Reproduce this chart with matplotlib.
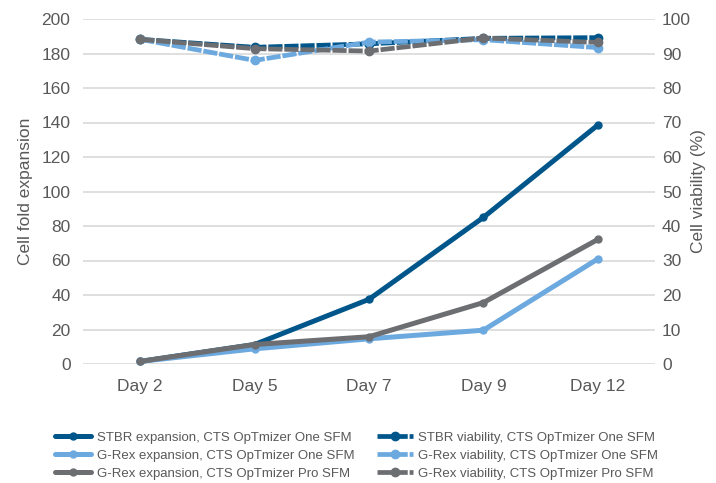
import matplotlib
matplotlib.use("Agg")
import matplotlib.pyplot as plt

days = ["Day 2", "Day 5", "Day 7", "Day 9", "Day 12"]
stbr_exp = [1.5, 11.3, 37.5, 85, 138.5]
grex_one_exp = [1.5, 8.8, 14.6, 19.6, 60.9]
grex_pro_exp = [1.5, 11.3, 15.8, 35.6, 72.2]
stbr_via = [94.1, 91.8, 92.8, 94.4, 94.6]
grex_one_via = [94.1, 88.0, 93.3, 94.0, 91.7]
grex_pro_via = [94.1, 91.4, 90.7, 94.5, 93.2]

left_ticks = [0, 20, 40, 60, 80, 100, 120, 140, 160, 180, 200]
right_ticks = [0, 10, 20, 30, 40, 50, 60, 70, 80, 90, 100]

c_dark = "#00568A"
c_light = "#6CA9DF"
c_gray = "#6D6E71"
txt = "#595959"

plt.rcParams['font.family'] = ['Liberation Sans', 'DejaVu Sans']

fig = plt.figure(figsize=(7.16, 4.83), dpi=100)
ax = fig.add_axes([83/716, (483-364)/483, (655-83)/716, (364-19)/483])
ax2 = ax.twinx()

x = list(range(len(days)))
h = []
for vals, col, lab in [(stbr_exp, c_dark, "STBR expansion, CTS OpTmizer One SFM"),
                       (grex_one_exp, c_light, "G-Rex expansion, CTS OpTmizer One SFM"),
                       (grex_pro_exp, c_gray, "G-Rex expansion, CTS OpTmizer Pro SFM")]:
    l, = ax.plot(x, vals, color=col, lw=3.6, marker='o', ms=5, label=lab, clip_on=False,
                 solid_capstyle='round')
    h.append(l)
for vals, col, lab in [(stbr_via, c_dark, "STBR viability, CTS OpTmizer One SFM"),
                       (grex_one_via, c_light, "G-Rex viability, CTS OpTmizer One SFM"),
                       (grex_pro_via, c_gray, "G-Rex viability, CTS OpTmizer Pro SFM")]:
    l, = ax2.plot(x, vals, color=col, lw=3.4, marker='o', ms=6, label=lab, clip_on=False,
                  dashes=(3.0, 0.4))
    h.append(l)

ax.set_xlim(-0.5, len(days) - 0.5)
ax.set_ylim(0, 200)
ax2.set_ylim(0, 100)
ax.set_yticks(left_ticks)
ax2.set_yticks(right_ticks)
ax.set_xticks(x)
ax.set_xticklabels(days)
ax.grid(axis='y', color='#D9D9D9', lw=1.2)
ax.set_axisbelow(True)
for a in (ax, ax2):
    for s in a.spines.values():
        s.set_visible(False)
    a.tick_params(length=0, labelsize=12.5, colors=txt)
ax.tick_params(axis='y', pad=9)
ax2.tick_params(axis='y', pad=5)
ax.tick_params(axis='x', pad=11)
ax.set_ylabel("Cell fold expansion", fontsize=12.5, color=txt, labelpad=6)
ax2.set_ylabel("Cell viability (%)", fontsize=12.5, color=txt, labelpad=0)

fig.legend(handles=h, ncol=2, loc='upper left', bbox_to_anchor=(50/716, 1 - 426/483),
           frameon=False, fontsize=9.5, labelcolor=txt, handlelength=2.7,
           columnspacing=1.7, labelspacing=0.45, handletextpad=0.45, borderaxespad=0)

fig.savefig("out.png", dpi=100)
